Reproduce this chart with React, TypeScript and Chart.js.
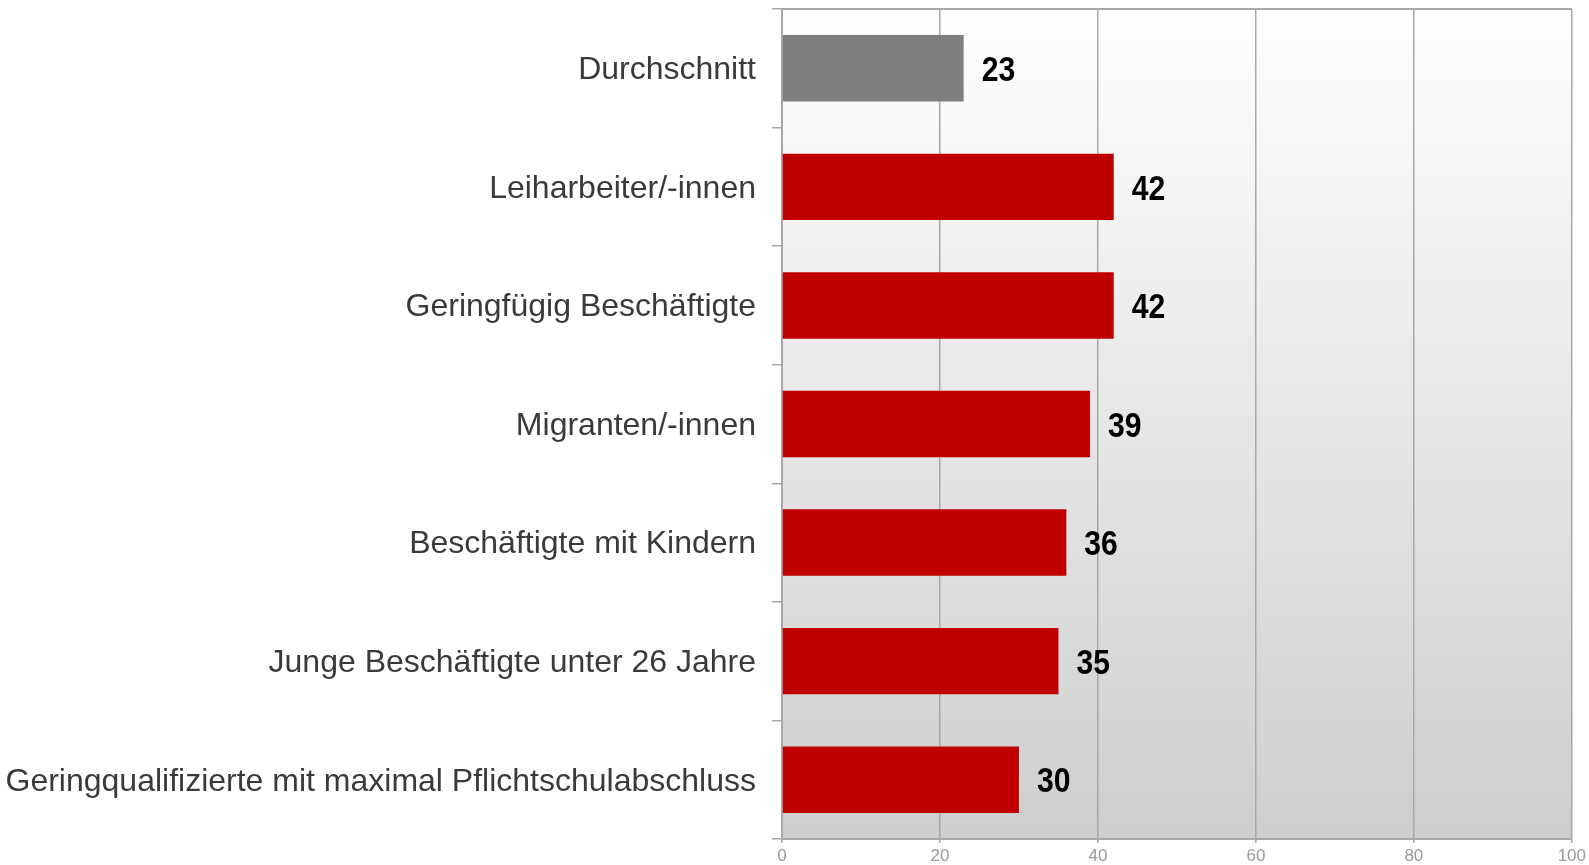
import React, { useEffect, useRef } from "react";
import { Chart, registerables } from "chart.js";

Chart.register(...registerables);

const categories = [
  "Durchschnitt",
  "Leiharbeiter/-innen",
  "Geringfügig Beschäftigte",
  "Migranten/-innen",
  "Beschäftigte mit Kindern",
  "Junge Beschäftigte unter 26 Jahre",
  "Geringqualifizierte mit maximal Pflichtschulabschluss",
];
const values = [23, 42, 42, 39, 36, 35, 30];
const barColors = ["#7f7f7f", "#c00000", "#c00000", "#c00000", "#c00000", "#c00000", "#c00000"];
const xMin = 0;
const xMax = 100;
const xStep = 20;

const bgPlugin = {
  id: "bgPlugin",
  beforeDraw(chart: any) {
    const { ctx, chartArea } = chart;
    if (!chartArea) return;
    const g = ctx.createLinearGradient(0, chartArea.top, 0, chartArea.bottom);
    g.addColorStop(0, "#ffffff");
    g.addColorStop(1, "#cecece");
    ctx.save();
    ctx.fillStyle = g;
    ctx.fillRect(chartArea.left, chartArea.top, chartArea.right - chartArea.left, chartArea.bottom - chartArea.top);
    ctx.restore();
  },
  afterDraw(chart: any) {
    const { ctx, chartArea } = chart;
    ctx.save();
    ctx.strokeStyle = "#a8a8a8";
    ctx.lineWidth = 2;
    ctx.beginPath();
    ctx.moveTo(chartArea.left, chartArea.top);
    ctx.lineTo(chartArea.right, chartArea.top);
    ctx.stroke();
    ctx.restore();
  },
};

const labelPlugin = {
  id: "labelPlugin",
  afterDatasetsDraw(chart: any) {
    const { ctx } = chart;
    const meta = chart.getDatasetMeta(0);
    const sx = 0.86;
    ctx.save();
    ctx.font = "bold 35px 'Liberation Sans', Arial, sans-serif";
    ctx.fillStyle = "#000000";
    ctx.textAlign = "left";
    ctx.textBaseline = "middle";
    meta.data.forEach((bar: any, i: number) => {
      ctx.save();
      ctx.translate(bar.x + 18, bar.y + 3);
      ctx.scale(sx, 1);
      ctx.fillText(String(values[i]), 0, 0);
      ctx.restore();
    });
    ctx.restore();
  },
};

export default function App() {
  const ref = useRef<HTMLCanvasElement>(null);
  useEffect(() => {
    document.body.style.margin = "0";
    const chart = new Chart(ref.current as HTMLCanvasElement, {
      type: "bar",
      data: {
        labels: categories,
        datasets: [
          {
            data: values,
            backgroundColor: barColors,
            borderWidth: 0,
            categoryPercentage: 1,
            barPercentage: 0.56,
          },
        ],
      },
      options: {
        indexAxis: "y",
        animation: false,
        responsive: true,
        maintainAspectRatio: false,
        layout: { padding: { top: 9, right: 17, left: 0, bottom: 0 } },
        plugins: { legend: { display: false }, tooltip: { enabled: false } },
        scales: {
          x: {
            min: xMin,
            max: xMax,
            ticks: {
              stepSize: xStep,
              color: "#9a9a9a",
              padding: 3,
              font: { family: "'Liberation Sans', Arial", size: 17 },
            },
            grid: { color: "#a8a8a8", lineWidth: 1.5, tickLength: 4, drawTicks: true },
            border: { color: "#a8a8a8", width: 2 },
            afterFit(scale: any) {
              scale.height = 26;
            },
          },
          y: {
            offset: true,
            ticks: {
              color: "#3a3a3a",
              padding: 16,
              labelOffset: 2,
              font: { family: "'Liberation Sans', Arial, sans-serif", size: 32 },
            },
            grid: { drawOnChartArea: false, drawTicks: true, tickLength: 10, color: "#a8a8a8", lineWidth: 1.5, offset: true },
            border: { color: "#a8a8a8", width: 2 },
            afterFit(scale: any) {
              scale.width = 782;
              scale.paddingTop = 0;
              scale.paddingBottom = 0;
            },
          },
        },
      },
      plugins: [bgPlugin, labelPlugin],
    });
    return () => chart.destroy();
  }, []);
  return (
    <div style={{ position: "absolute", left: 0, top: 0, width: 1589, height: 865, background: "#fff" }}>
      <canvas ref={ref} />
    </div>
  );
}
